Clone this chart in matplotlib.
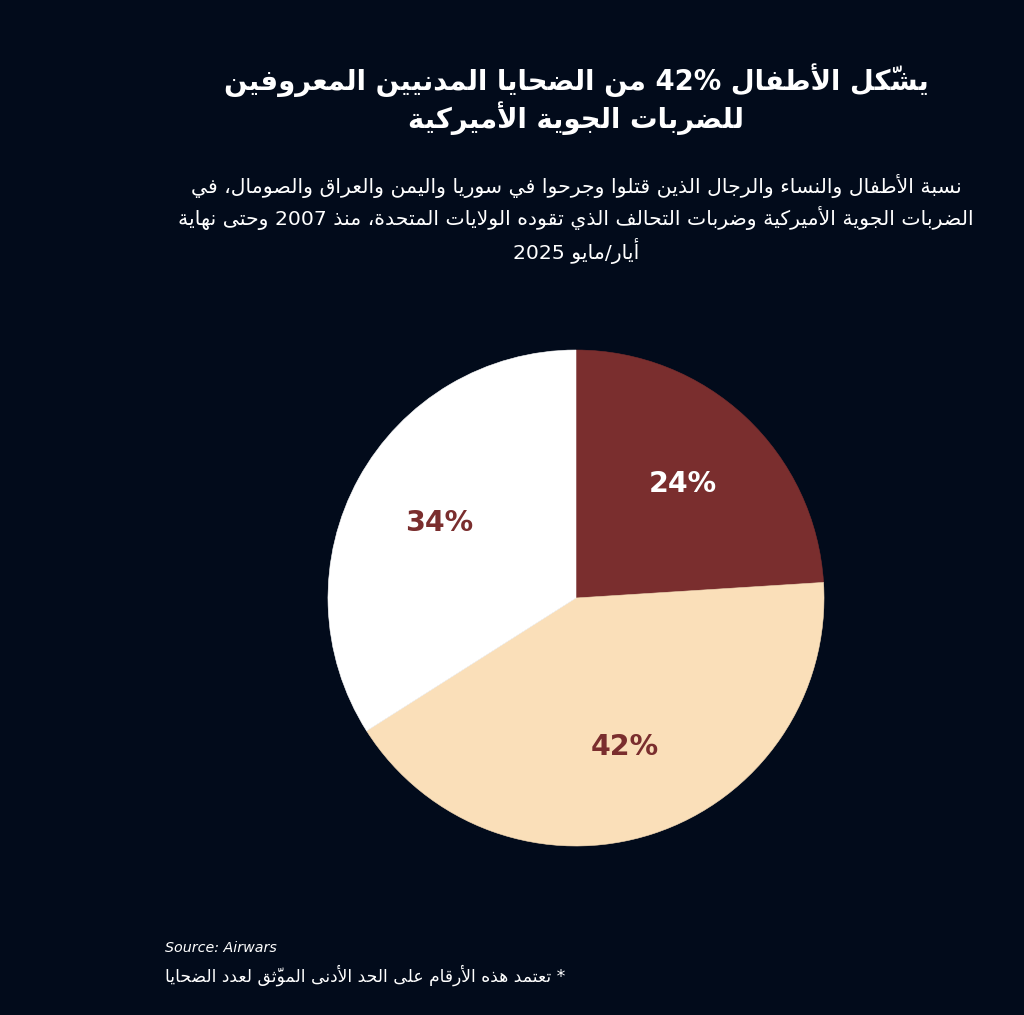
import re
import matplotlib
matplotlib.use('Agg')
import matplotlib.pyplot as plt

# ---------------- data ----------------
categories = ['النساء', 'الأطفال', 'الرجال']
values = [24, 42, 34]
slice_colors = ['#7a2e2e', '#fadfb9', '#ffffff']
label_colors = ['#ffffff', '#7a2e2e', '#7a2e2e']

title_lines = ['يشكّل الأطفال 42% من الضحايا المدنيين المعروفين',
               'للضربات الجوية الأميركية']
subtitle_lines = ['نسبة الأطفال والنساء والرجال الذين قتلوا وجرحوا في سوريا واليمن والعراق والصومال، في',
                  'الضربات الجوية الأميركية وضربات التحالف الذي تقوده الولايات المتحدة، منذ 2007 وحتى نهاية',
                  'أيار/مايو 2025']
source_text = 'Source: Airwars'
note_text = '* تعتمد هذه الأرقام على الحد الأدنى الموثّق لعدد الضحايا'

# ---------------- simple Arabic shaping (presentation forms + visual order) ----------------
FORMS = {
    'ء': (0xFE80,), 'آ': (0xFE81, 0xFE82), 'أ': (0xFE83, 0xFE84), 'ؤ': (0xFE85, 0xFE86),
    'إ': (0xFE87, 0xFE88), 'ئ': (0xFE89, 0xFE8A, 0xFE8B, 0xFE8C), 'ا': (0xFE8D, 0xFE8E),
    'ب': (0xFE8F, 0xFE90, 0xFE91, 0xFE92), 'ة': (0xFE93, 0xFE94),
    'ت': (0xFE95, 0xFE96, 0xFE97, 0xFE98), 'ث': (0xFE99, 0xFE9A, 0xFE9B, 0xFE9C),
    'ج': (0xFE9D, 0xFE9E, 0xFE9F, 0xFEA0), 'ح': (0xFEA1, 0xFEA2, 0xFEA3, 0xFEA4),
    'خ': (0xFEA5, 0xFEA6, 0xFEA7, 0xFEA8), 'د': (0xFEA9, 0xFEAA), 'ذ': (0xFEAB, 0xFEAC),
    'ر': (0xFEAD, 0xFEAE), 'ز': (0xFEAF, 0xFEB0), 'س': (0xFEB1, 0xFEB2, 0xFEB3, 0xFEB4),
    'ش': (0xFEB5, 0xFEB6, 0xFEB7, 0xFEB8), 'ص': (0xFEB9, 0xFEBA, 0xFEBB, 0xFEBC),
    'ض': (0xFEBD, 0xFEBE, 0xFEBF, 0xFEC0), 'ط': (0xFEC1, 0xFEC2, 0xFEC3, 0xFEC4),
    'ظ': (0xFEC5, 0xFEC6, 0xFEC7, 0xFEC8), 'ع': (0xFEC9, 0xFECA, 0xFECB, 0xFECC),
    'غ': (0xFECD, 0xFECE, 0xFECF, 0xFED0), 'ف': (0xFED1, 0xFED2, 0xFED3, 0xFED4),
    'ق': (0xFED5, 0xFED6, 0xFED7, 0xFED8), 'ك': (0xFED9, 0xFEDA, 0xFEDB, 0xFEDC),
    'ل': (0xFEDD, 0xFEDE, 0xFEDF, 0xFEE0), 'م': (0xFEE1, 0xFEE2, 0xFEE3, 0xFEE4),
    'ن': (0xFEE5, 0xFEE6, 0xFEE7, 0xFEE8), 'ه': (0xFEE9, 0xFEEA, 0xFEEB, 0xFEEC),
    'و': (0xFEED, 0xFEEE), 'ى': (0xFEEF, 0xFEF0), 'ي': (0xFEF1, 0xFEF2, 0xFEF3, 0xFEF4),
    'LAآ': (0xFEF5, 0xFEF6), 'LAأ': (0xFEF7, 0xFEF8), 'LAإ': (0xFEF9, 0xFEFA), 'LAا': (0xFEFB, 0xFEFC),
}
MARKS = set(chr(c) for c in range(0x064B, 0x0653)) | {'\u0670'}


def shape_ar(text):
    units = []
    for ch in text:
        if ch in MARKS and units:
            units[-1][1].append(ch)
        else:
            units.append([ch, []])
    merged = []
    i = 0
    while i < len(units):
        b, m = units[i]
        if b == 'ل' and i + 1 < len(units) and units[i + 1][0] in 'آأإا':
            merged.append(['LA' + units[i + 1][0], m + units[i + 1][1]])
            i += 2
        else:
            merged.append([b, m])
            i += 1

    def dual(x):
        return x in FORMS and len(FORMS[x]) == 4

    def right_join(x):
        return x in FORMS and len(FORMS[x]) >= 2

    glyphs = []
    for i, (b, m) in enumerate(merged):
        if b in FORMS:
            f = FORMS[b]
            prev = i > 0 and dual(merged[i - 1][0])
            nxt = i + 1 < len(merged) and right_join(merged[i + 1][0])
            if len(f) == 4:
                c = f[3] if (prev and nxt) else f[1] if prev else f[2] if nxt else f[0]
            elif len(f) == 2:
                c = f[1] if prev else f[0]
            else:
                c = f[0]
            glyphs.append(chr(c) + ''.join(m))
        else:
            glyphs.append(b + ''.join(m))
    tokens = []
    buf = ''
    for g in glyphs:
        if re.fullmatch(r'[0-9A-Za-z%]', g):
            buf += g
        else:
            if buf:
                tokens.append(buf)
                buf = ''
            tokens.append(g)
    if buf:
        tokens.append(buf)
    return ''.join(reversed(tokens))


# ---------------- figure ----------------
BG = '#020b1b'
W, H = 1024, 1015
fig = plt.figure(figsize=(W / 100, H / 100), dpi=100, facecolor=BG)

cx, cy, r = 576, 598, 248
ax = fig.add_axes([(cx - r) / W, (H - cy - r) / H, 2 * r / W, 2 * r / H])
ax.set_facecolor(BG)
wedges, _, autotexts = ax.pie(values, colors=slice_colors, startangle=90,
                              counterclock=False,
                              autopct=lambda p: f'{p:.0f}%', pctdistance=0.63,
                              wedgeprops=dict(linewidth=0))
for w, c in zip(wedges, slice_colors):
    w.set_edgecolor(c)
    w.set_linewidth(0.4)
for t, c in zip(autotexts, label_colors):
    t.set_color(c)
    t.set_fontsize(20.5)
    t.set_fontweight('bold')
    t.set_fontfamily('DejaVu Sans')
ax.set_xlim(-1, 1)
ax.set_ylim(-1, 1)
ax.axis('off')

ar_font = ['DejaVu Sans']
title_y = [80, 118]
for line, y in zip(title_lines, title_y):
    fig.text(cx / W, 1 - y / H, shape_ar(line), ha='center', va='center',
             color='white', fontsize=19.8, fontweight='bold', family=ar_font)

sub_y = [186, 218, 251]
for line, y in zip(subtitle_lines, sub_y):
    fig.text(cx / W, 1 - y / H, shape_ar(line), ha='center', va='center',
             color='white', fontsize=14.7, family=ar_font)

fig.text(165 / W, 1 - 948 / H, source_text, ha='left', va='center',
         color='white', fontsize=10.3, style='italic', family=['DejaVu Sans'])
fig.text(165 / W, 1 - 975 / H, shape_ar(note_text), ha='left', va='center',
         color='white', fontsize=12.3, family=ar_font)

fig.savefig('out.png', dpi=100, facecolor=BG)
